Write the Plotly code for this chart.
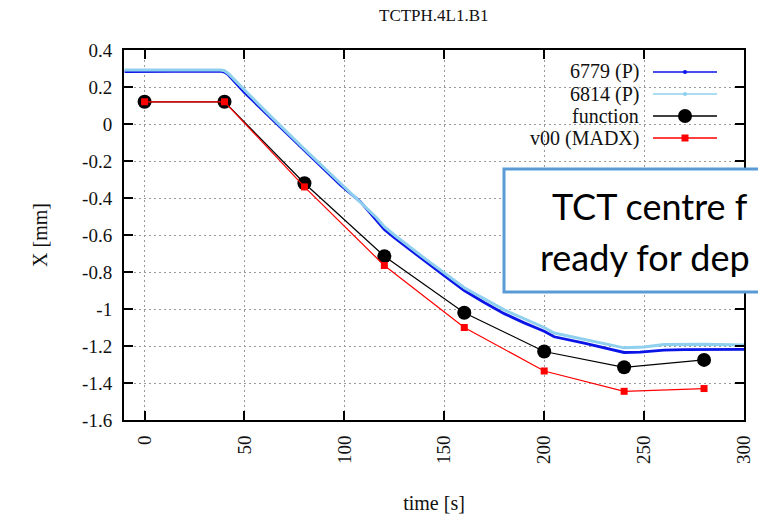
import plotly.graph_objects as go

# ---- data -------------------------------------------------------------
plot_title = "TCTPH.4L1.B1"

# measured collimator centre, fill 6779 (P)
t_6779 = [-10, 0, 10, 20, 30, 38, 40, 42, 50, 60, 70, 78, 85, 98, 108, 116, 120, 125,
          140, 150, 160, 170, 180, 190, 200, 205, 220, 230, 240, 248, 260, 270, 280, 290, 300]
x_6779 = [0.283, 0.284, 0.283, 0.284, 0.285, 0.286, 0.280, 0.265, 0.170, 0.065, -0.040,
          -0.125, -0.195, -0.330, -0.420, -0.520, -0.570, -0.615, -0.740, -0.820, -0.900,
          -0.965, -1.025, -1.075, -1.120, -1.150, -1.185, -1.210, -1.235, -1.233, -1.222,
          -1.220, -1.218, -1.219, -1.218]

# measured collimator centre, fill 6814 (P)
t_6814 = [-10, 0, 20, 38, 40, 42, 60, 78, 98, 116, 120, 125, 140, 160, 180, 200, 205,
          220, 240, 250, 260, 280, 300]
x_6814 = [0.292, 0.291, 0.292, 0.292, 0.288, 0.272, 0.075, -0.115, -0.320, -0.505,
          -0.555, -0.600, -0.725, -0.885, -1.005, -1.100, -1.130, -1.165, -1.210,
          -1.205, -1.192, -1.190, -1.195]

# time-function knots
t_fn = [0, 40, 80, 120, 160, 200, 240, 280]
x_fn = [0.12, 0.12, -0.32, -0.715, -1.02, -1.23, -1.315, -1.275]

# MADX prediction v00
t_madx = [0, 40, 80, 120, 160, 200, 240, 280]
x_madx = [0.12, 0.12, -0.34, -0.765, -1.10, -1.335, -1.445, -1.43]

x_tickvals = [0, 50, 100, 150, 200, 250, 300]
y_tickvals = [0.4, 0.2, 0, -0.2, -0.4, -0.6, -0.8, -1.0, -1.2, -1.4, -1.6]
y_ticktext = ["0.4", "0.2", "0", "-0.2", "-0.4", "-0.6", "-0.8", "-1", "-1.2", "-1.4", "-1.6"]

series_names = ["6779 (P)", "6814 (P)", "function", "v00 (MADX)"]
series_colors = ["#0a14e6", "#8fd0ee", "#000000", "#ff0000"]

# call-out text, as far as it shows on the slide
note_lines = ["TCT centre f", "ready for dep"]

# ---- geometry -----------------------------------------------------------
W, H = 758, 515
L, R, T, B = 124, 14, 50, 95
PW, PH = W - L - R, H - T - B
SERIF = "Liberation Serif"


def px(xp):
    return (xp - L) / PW


def py(yp):
    return (T + PH - yp) / PH


fig = go.Figure()

fig.add_trace(go.Scatter(x=t_6779, y=x_6779, mode="lines", name=series_names[0],
                         line=dict(color=series_colors[0], width=2.8)))
fig.add_trace(go.Scatter(x=t_6814, y=x_6814, mode="lines", name=series_names[1],
                         line=dict(color=series_colors[1], width=3)))
fig.add_trace(go.Scatter(x=t_fn, y=x_fn, mode="lines+markers", name=series_names[2],
                         line=dict(color=series_colors[2], width=1.2),
                         marker=dict(symbol="circle", size=14, color=series_colors[2])))
fig.add_trace(go.Scatter(x=t_madx, y=x_madx, mode="lines+markers", name=series_names[3],
                         line=dict(color=series_colors[3], width=1.2),
                         marker=dict(symbol="square", size=7, color=series_colors[3])))

shapes = []
annotations = []

# opaque key area (hides the grid behind the key)
shapes.append(dict(type="rect", xref="paper", yref="paper", layer="between",
                   x0=px(515), x1=px(730), y0=py(150), y1=py(60),
                   fillcolor="white", line=dict(width=0)))

# key: labels on the left, samples on the right
key_rows = [72, 94, 116, 138]
for i, (name, col, yrow) in enumerate(zip(series_names, series_colors, key_rows)):
    annotations.append(dict(text=name, xref="paper", yref="paper", x=px(641), y=py(yrow),
                            xanchor="right", yanchor="middle", showarrow=False,
                            font=dict(family=SERIF, size=20, color="#111")))
    shapes.append(dict(type="line", xref="paper", yref="paper", layer="above",
                       x0=px(653), x1=px(717), y0=py(yrow), y1=py(yrow),
                       line=dict(color=col, width=1.6)))
    if i < 2:
        half = 2
        kind = "circle"
    elif i == 2:
        half = 7
        kind = "circle"
    else:
        half = 3.5
        kind = "rect"
    shapes.append(dict(type=kind, xref="paper", yref="paper", layer="above",
                       xsizemode="pixel", ysizemode="pixel",
                       xanchor=px(685), yanchor=py(yrow),
                       x0=-half, x1=half, y0=-half, y1=half,
                       fillcolor=col, line=dict(width=0)))

# call-out box
shapes.append(dict(type="rect", xref="paper", yref="paper", layer="above",
                   x0=px(504), x1=px(800), y0=py(292), y1=py(169),
                   fillcolor="white", line=dict(color="#5b9bd5", width=3)))
annotations.append(dict(text=note_lines[0], xref="paper", yref="paper",
                        x=px(550), y=py(206), xanchor="left", yanchor="middle",
                        showarrow=False, font=dict(family="Lato", size=36, color="black")))
annotations.append(dict(text=note_lines[1], xref="paper", yref="paper",
                        x=px(538), y=py(257), xanchor="left", yanchor="middle",
                        showarrow=False, font=dict(family="Lato", size=36, color="black")))

# title
annotations.append(dict(text=plot_title, xref="paper", yref="paper", x=0.5, y=py(15),
                        xanchor="center", yanchor="middle", showarrow=False,
                        font=dict(family=SERIF, size=17, color="#111")))

axis_common = dict(showline=True, linecolor="black", linewidth=2, mirror="ticks",
                   ticks="inside", ticklen=9, tickwidth=1.5, tickcolor="black",
                   showgrid=True, gridcolor="#9a9a9a", gridwidth=1, griddash="2px,3px",
                   zeroline=False, automargin=False,
                   tickfont=dict(family=SERIF, size=19, color="#111"))

fig.update_layout(
    width=W, height=H,
    margin=dict(l=L, r=R, t=T, b=B, pad=0),
    paper_bgcolor="white", plot_bgcolor="white",
    showlegend=False,
    shapes=shapes, annotations=annotations,
    xaxis=dict(range=[-10.3, 300], tickvals=x_tickvals, tickangle=-90,
               ticklabelstandoff=6,
               title=dict(text="time [s]", standoff=33,
                          font=dict(family=SERIF, size=20, color="#111")),
               **axis_common),
    yaxis=dict(range=[-1.6, 0.4], tickvals=y_tickvals, ticktext=y_ticktext,
               ticklabelstandoff=6,
               title=dict(text="X [mm]", standoff=29,
                          font=dict(family=SERIF, size=20, color="#111")),
               **axis_common),
)

fig.write_html("out.html")
